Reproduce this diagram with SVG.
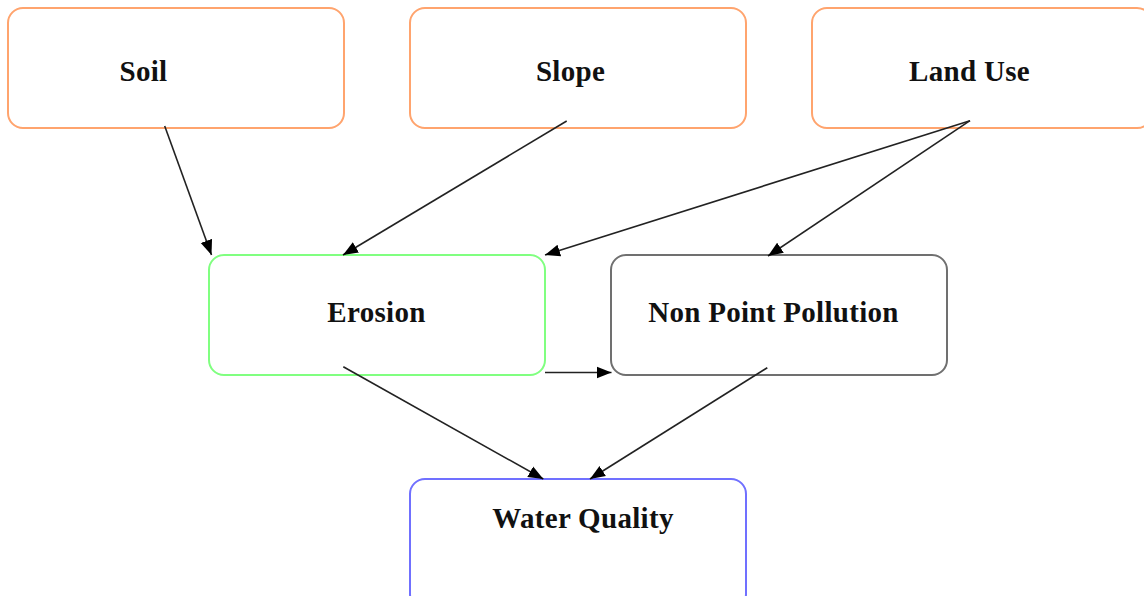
<svg xmlns="http://www.w3.org/2000/svg" width="1144" height="596" viewBox="0 0 1144 596">
<style>
.box{fill:#fff;stroke-width:2}
.o{stroke:#FFA46E}
.g{stroke:#80FF80}
.k{stroke:#707070}
.b{stroke:#7070FF}
.t{font-family:"Liberation Serif","Times New Roman",serif;font-weight:bold;font-size:29px;letter-spacing:0.3px;fill:#111;text-anchor:middle}
.e{stroke:#222;stroke-width:1.6;fill:none;marker-end:url(#ah)}
</style>
<defs>
<marker id="ah" markerUnits="userSpaceOnUse" markerWidth="16" markerHeight="14" refX="15" refY="6" orient="auto" viewBox="0 0 16 12">
<path d="M0,0 L15,6 L0,12 z" fill="#000"/>
</marker>
</defs>
<rect width="1144" height="596" fill="#fff"/>
<g id="soil"><rect class="box o" x="8" y="8" width="336" height="120" rx="15"/><text class="t" x="143.5" y="81">Soil</text></g>
<g id="slope"><rect class="box o" x="410" y="8" width="336" height="120" rx="15"/><text class="t" x="570.5" y="81">Slope</text></g>
<g id="landuse"><rect class="box o" x="812" y="8" width="340" height="120" rx="15"/><text class="t" x="969.5" y="81">Land Use</text></g>
<g id="erosion"><rect class="box g" x="209" y="255" width="336" height="120" rx="15"/><text class="t" x="376.5" y="322">Erosion</text></g>
<g id="npp"><rect class="box k" x="611" y="255" width="336" height="120" rx="15"/><text class="t" x="773.5" y="322">Non Point Pollution</text></g>
<g id="wq"><rect class="box b" x="410" y="479" width="336" height="130" rx="15"/><text class="t" x="583" y="528">Water Quality</text></g>
<g id="connectors">
<line class="e" x1="164.7" y1="126" x2="211.5" y2="255"/>
<line class="e" x1="566.7" y1="121" x2="343" y2="255"/>
<line class="e" x1="970" y1="120.7" x2="545" y2="255"/>
<line class="e" x1="970" y1="120.7" x2="768" y2="256"/>
<line class="e" x1="545" y1="372.5" x2="611.5" y2="372.5"/>
<line class="e" x1="343.3" y1="366.7" x2="543.3" y2="479"/>
<line class="e" x1="767.3" y1="367.7" x2="590" y2="479"/>
</g>
</svg>
